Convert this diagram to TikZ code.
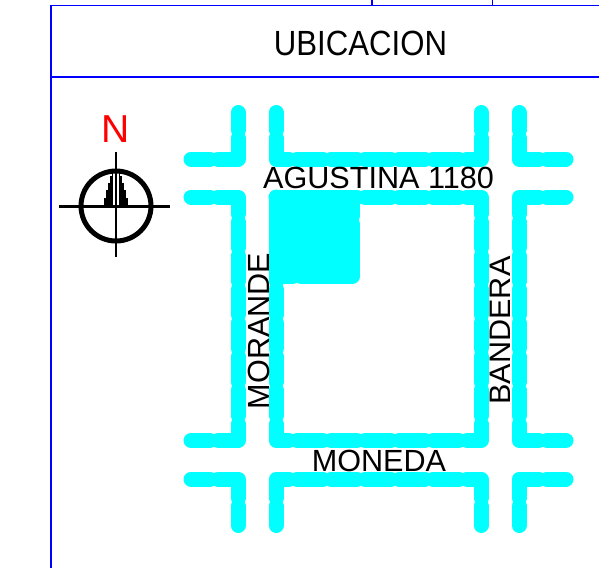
\documentclass[tikz,border=0pt]{standalone}
\usepackage{fontspec}
\setmainfont{Liberation Sans}
\definecolor{road}{RGB}{0,255,255}
\definecolor{frame}{RGB}{0,0,255}
\tikzset{
  x=1pt,y=-1pt,
  frameline/.style={draw=frame,line width=1.5pt},
  roadseg/.style={draw=road,line width=15pt,line cap=round,line join=round},
  roadrun/.style={roadseg,dash pattern=on 26pt off 8pt},
  roadrunv/.style={roadseg,dash pattern=on 25.6pt off 8pt},
  streetlabel/.style={inner sep=0pt,font=\fontsize{30.6}{30.6}\selectfont,text=black},
  symbol/.style={draw=black,line width=2.4pt}
}
\begin{document}
\begin{tikzpicture}
\useasboundingbox (0,0) rectangle (599,568);
\fill[white] (0,0) rectangle (599,568);
% frame
\draw[frameline] (51,568) -- (51,5.5) -- (599,5.5);
\draw[frameline] (51,77) -- (599,77);
\draw[frameline] (372,0) -- (372,5.5);
\draw[frameline] (492.5,0) -- (492.5,5.5);
\node[streetlabel,font=\fontsize{35}{35}\selectfont,xscale=.89] (title) at (360.5,43) {UBICACION};
% parcel
\fill[road] (276,197) rectangle (352.5,276);
\draw[roadseg] (276,197) -- (352.5,197) -- (352.5,216);
\draw[roadseg] (352.5,224) -- (352.5,276) -- (301,276);
\draw[roadseg] (293,276) -- (276,276) -- (276,197);
% west outer corners
\draw[roadseg] (191,159) -- (210,159);
\draw[roadseg] (238,112.5) -- (238,130);
\draw[roadseg] (218,159) -- (238,159) -- (238,138);
\draw[roadseg] (191,197) -- (210,197);
\draw[roadseg] (218,197) -- (238,197) -- (238,214);
\draw[roadrunv] (238,222) -- (238,416);
\draw[roadseg] (238,424) -- (238,440.5) -- (218,440.5);
\draw[roadseg] (191,440.5) -- (210,440.5);
\draw[roadseg] (191,479) -- (210,479);
\draw[roadseg] (218,479) -- (238,479) -- (238,498);
\draw[roadseg] (238,506) -- (238,525.5);
% north of block
\draw[roadseg] (276,112.5) -- (276,130);
\draw[roadseg] (276,138) -- (276,159) -- (289,159);
\draw[roadrun] (297,159) -- (459,159);
\draw[roadseg] (467,159) -- (481,159) -- (481,138);
\draw[roadseg] (481,112.5) -- (481,130);
% block
\draw[roadseg] (276,214) -- (276,197) -- (289,197);
\draw[roadrun] (297,197) -- (459,197);
\draw[roadseg] (467,197) -- (481,197) -- (481,214);
\draw[roadrunv] (276,222) -- (276,416);
\draw[roadrunv] (481,222) -- (481,416);
\draw[roadseg] (276,424) -- (276,440.5) -- (289,440.5);
\draw[roadrun] (297,440.5) -- (459,440.5);
\draw[roadseg] (467,440.5) -- (481,440.5) -- (481,424);
% south of block
\draw[roadseg] (276,498) -- (276,479) -- (289,479);
\draw[roadrun] (297,479) -- (459,479);
\draw[roadseg] (467,479) -- (481,479) -- (481,498);
\draw[roadseg] (276,506) -- (276,525.5);
\draw[roadseg] (481,506) -- (481,525.5);
% east road
\draw[roadseg] (519,112.5) -- (519,130);
\draw[roadseg] (519,138) -- (519,159) -- (539,159);
\draw[roadseg] (547,159) -- (566,159);
\draw[roadseg] (547,197) -- (566,197);
\draw[roadseg] (539,197) -- (519,197) -- (519,214);
\draw[roadrunv] (519,222) -- (519,416);
\draw[roadseg] (519,424) -- (519,440.5) -- (539,440.5);
\draw[roadseg] (547,440.5) -- (566,440.5);
\draw[roadseg] (547,479) -- (566,479);
\draw[roadseg] (539,479) -- (519,479) -- (519,498);
\draw[roadseg] (519,506) -- (519,525.5);
% labels
\node[streetlabel] (agustina) at (378.5,177.5) {AGUSTINA 1180};
\node[streetlabel] (moneda) at (379,460.5) {MONEDA};
\node[streetlabel,rotate=90] (morande) at (258.5,331) {MORANDE};
\node[streetlabel,rotate=90,yscale=.97] (bandera) at (500.5,330.5) {BANDERA};
% north symbol
\node[inner sep=0pt,font=\fontsize{39}{39}\selectfont,text=red] (north) at (115.5,129.5) {N};
\coordinate (c) at (116,206);
\draw[draw=black,line width=5pt] (c) circle (35);
\draw[symbol] (116,152) -- (116,257);
\draw[symbol] (59,206.5) -- (170,206.5);
\foreach \dx/\t in {-11/198,-9/190,-7/183,-5/176,-3.2/170,3.2/170,5/176,7/183,9/190,11/198}{
  \draw[black,line width=1.3pt] (116+\dx,206) -- (116+\dx,\t);}
\end{tikzpicture}
\end{document}
